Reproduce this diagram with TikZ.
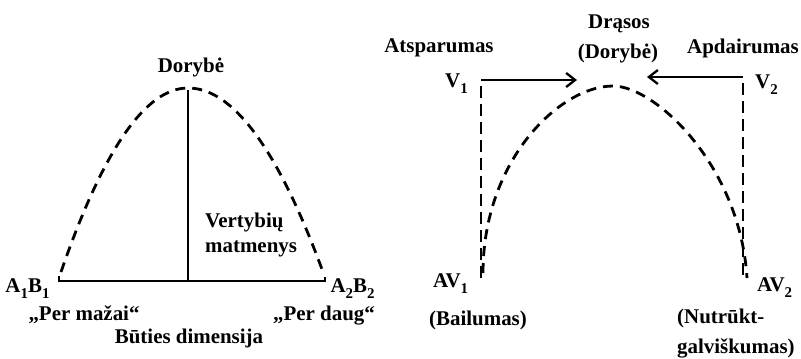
\documentclass[tikz,border=0pt]{standalone}
\usepackage{fontspec}
\setmainfont{Liberation Serif}
\usetikzlibrary{arrows.meta}
\newcommand\sbx[1]{\raisebox{-0.3em}{\fontsize{15}{15}\selectfont #1}}
\begin{document}
\begin{tikzpicture}[x=1bp,y=-1bp,
  lbl/.style={inner sep=0pt, anchor=base, font=\fontsize{21}{24}\selectfont\bfseries},
  curve/.style={dash pattern=on 10bp off 7bp, line width=2.8bp},
  vdash/.style={dash pattern=on 12bp off 6bp, dash phase=12bp, line width=2.2bp},
  axisline/.style={line width=2bp},
  arr/.style={line width=2.3bp, -{Straight Barb[length=9bp,width=14bp]}}]
\useasboundingbox (0,0) rectangle (801,358);
% ---------- left diagram ----------
\coordinate (apexL) at (188,88);
\coordinate (endLa) at (61,272);
\coordinate (endLb) at (323,272);
\draw[curve] (endLa) .. controls (103.3,149.3) and (145.7,88) .. (apexL)
                     .. controls (233,88) and (278,149.3) .. (endLb);
\coordinate (topL) at (188,90);
\coordinate (footL) at (188,281);
\draw[axisline] (topL) -- (footL);
\coordinate (baseA) at (59,281);
\coordinate (baseB) at (325,281);
\draw[axisline] (baseA) ++(0,-5) -- (baseA) -- (baseB) -- ++(0,-4);
\node[lbl] (dorybe) at (191,72) {Dorybė};
\node[lbl] (a1b1) at (27.5,292) {A\sbx{1}B\sbx{1}};
\node[lbl] (a2b2) at (352.5,292) {A\sbx{2}B\sbx{2}};
\node[lbl] (permazai) at (84,320) {„Per mažai“};
\node[lbl] (perdaug) at (324,320) {„Per daug“};
\node[lbl] (buties) at (189,343) {Būties dimensija};
\node[lbl, anchor=base west] (vert) at (205,227) {Vertybių};
\node[lbl, anchor=base west] (matm) at (205,252) {matmenys};
% ---------- right diagram ----------
\node[lbl] (drasos) at (619,28) {Drąsos};
\node[lbl] (doryb2) at (618,58) {(Dorybė)};
\node[lbl] (atsp) at (439,52) {Atsparumas};
\node[lbl] (apd) at (743,53) {Apdairumas};
\node[lbl, anchor=base west] (v1) at (445,87) {V\sbx{1}};
\node[lbl, anchor=base west] (v2) at (755,88) {V\sbx{2}};
\node[lbl, anchor=base west] (av1) at (433,287) {AV\sbx{1}};
\node[lbl, anchor=base west] (av2) at (757,291) {AV\sbx{2}};
\node[lbl] (bail) at (478,325) {(Bailumas)};
\node[lbl, anchor=base west] (nutr) at (677,323) {(Nutrūkt-};
\node[lbl, anchor=base west] (galv) at (677,353) {galviškumas)};
\coordinate (c1) at (481,80);
\coordinate (c1b) at (481,282);
\coordinate (c2) at (743,77);
\coordinate (c2b) at (743,280);
\coordinate (t1) at (577,80);
\coordinate (t2) at (647,77);
\draw[arr] (c1) -- (t1);
\draw[arr] (c2) -- (t2);
\draw[vdash] (c1) -- (c1b);
\draw[vdash] (c2) -- (c2b);
\coordinate (apexR) at (613,86);
\coordinate (endRa) at (483,273);
\coordinate (endRb) at (747,278);
\draw[curve] (endRa) .. controls (483,160) and (560,86) .. (apexR)
                     .. controls (655,86) and (740,165) .. (endRb);
\end{tikzpicture}
\end{document}
